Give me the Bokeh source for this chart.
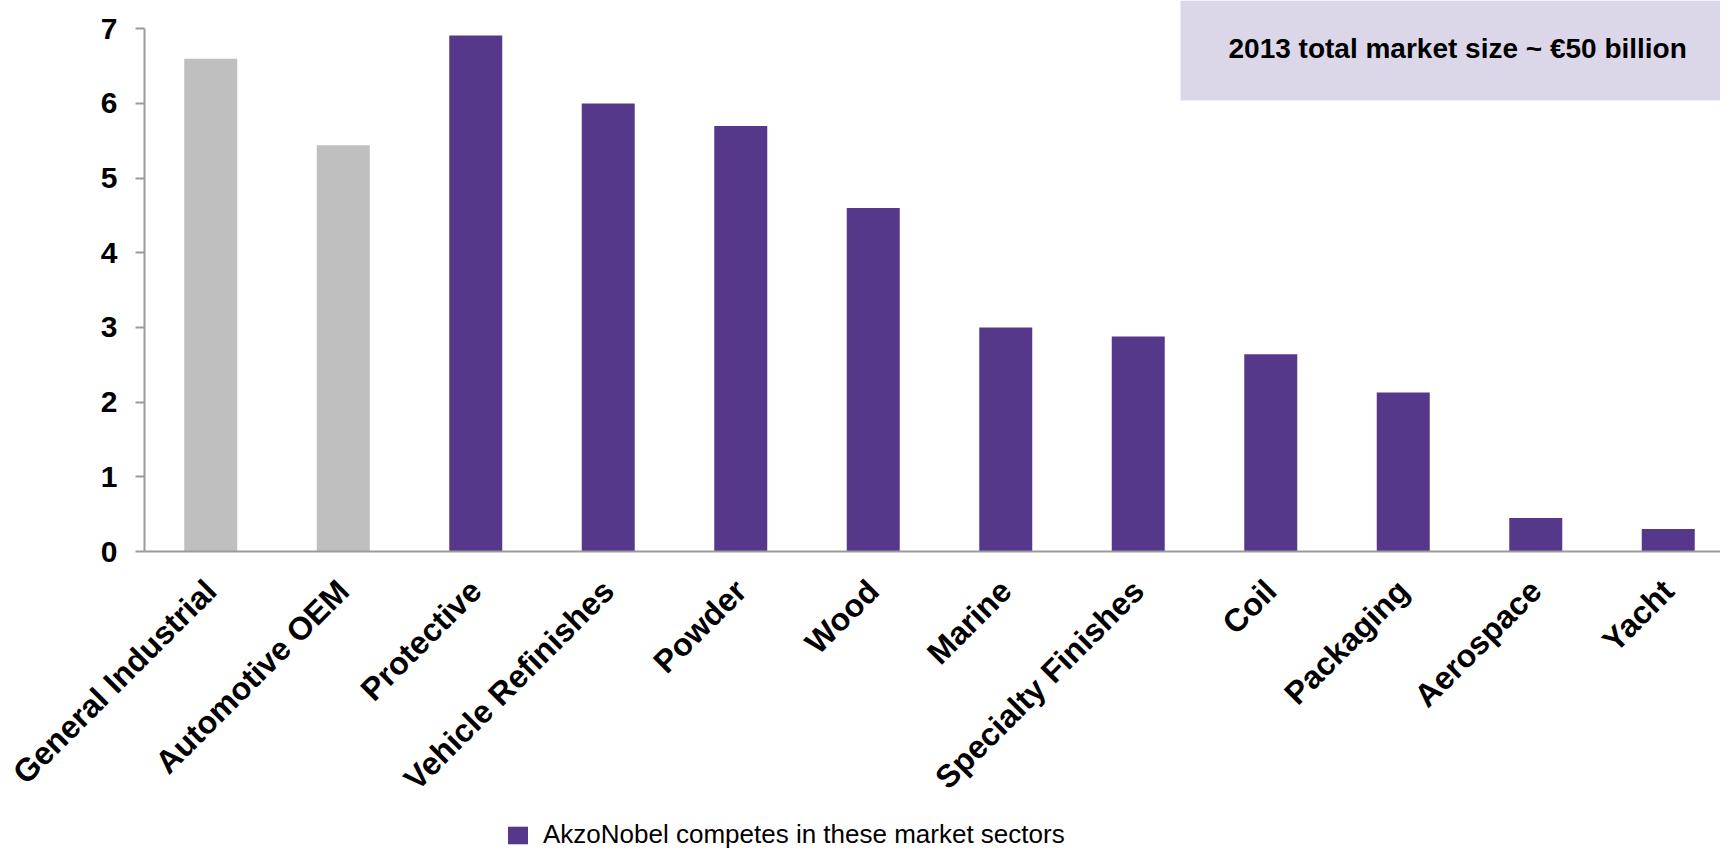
import math
from bokeh.plotting import figure
from bokeh.layouts import column
from bokeh.models import (ColumnDataSource, Range1d, FixedTicker, BoxAnnotation,
                          Label, Legend, LegendItem)
from bokeh.embed import file_html
from bokeh.resources import INLINE

# ---------------- data ----------------
categories = ["General Industrial", "Automotive OEM", "Protective", "Vehicle Refinishes",
              "Powder", "Wood", "Marine", "Specialty Finishes", "Coil", "Packaging",
              "Aerospace", "Yacht"]
market_size = [6.60, 5.44, 6.91, 6.00, 5.70, 4.60, 3.00, 2.88, 2.64, 2.13, 0.45, 0.30]
akzo_competes = [False, False, True, True, True, True, True, True, True, True, True, True]
y_ticks = [0, 1, 2, 3, 4, 5, 6, 7]
box_text = "2013 total market size  ~ \u20ac50 billion"
legend_text = "AkzoNobel competes in these market sectors"

# ---------------- layout ----------------
FONT = "Liberation Sans"
PURPLE = "#56388A"
GRAY = "#BFBFBF"
W = 1720
H_MAIN = 818
H_LEG = 32
frame_left = 144          # canvas px
frame_bottom = 551        # canvas px
cat_px = 132.5            # px per category
unit_px = 74.67           # px per y unit
x_start = -0.5
x_end = x_start + (W - frame_left) / cat_px
y_end = frame_bottom / unit_px


def x_at(px):
    return x_start + (px - frame_left) / cat_px


def y_at(py):
    return (frame_bottom - py) / unit_px


p = figure(width=W, height=H_MAIN, x_range=Range1d(x_start, x_end),
           y_range=Range1d(0, y_end), output_backend="svg", toolbar_location=None,
           min_border_left=frame_left, min_border_right=0, min_border_top=0,
           min_border_bottom=H_MAIN - frame_bottom)
p.outline_line_color = None
p.xgrid.visible = False
p.ygrid.visible = False
p.background_fill_color = "white"
p.border_fill_color = "white"

idx = list(range(len(categories)))
gray_src = ColumnDataSource(dict(
    x=[i for i, c in zip(idx, akzo_competes) if not c],
    top=[v for v, c in zip(market_size, akzo_competes) if not c]))
purple_src = ColumnDataSource(dict(
    x=[i for i, c in zip(idx, akzo_competes) if c],
    top=[v for v, c in zip(market_size, akzo_competes) if c]))

p.vbar(x="x", top="top", bottom=0, width=0.4, source=gray_src,
       fill_color=GRAY, line_color=None)
p.vbar(x="x", top="top", bottom=0, width=0.4, source=purple_src,
       fill_color=PURPLE, line_color=None)

# x axis
xa = p.xaxis[0]
xa.ticker = FixedTicker(ticks=idx)
xa.major_label_overrides = {i: c for i, c in enumerate(categories)}
xa.major_label_orientation = math.pi / 4
xa.major_tick_out = 0
xa.major_tick_in = 0
xa.minor_tick_out = 0
xa.minor_tick_in = 0
xa.axis_line_color = "#9A9A9A"
xa.axis_line_width = 2
xa.major_label_text_font = FONT
xa.major_label_text_font_size = "32px"
xa.major_label_text_font_style = "bold"
xa.major_label_text_color = "black"
xa.major_label_standoff = 34

# y axis
ya = p.yaxis[0]
ya.ticker = FixedTicker(ticks=y_ticks)
ya.bounds = (y_ticks[0], y_ticks[-1])
ya.major_tick_out = 9
ya.major_tick_in = 0
ya.minor_tick_out = 0
ya.minor_tick_in = 0
ya.major_tick_line_color = "#9A9A9A"
ya.major_tick_line_width = 2
ya.axis_line_color = "#9A9A9A"
ya.axis_line_width = 2
ya.major_label_text_font = FONT
ya.major_label_text_font_size = "30px"
ya.major_label_text_font_style = "bold"
ya.major_label_text_color = "black"
ya.major_label_standoff = 18

# info box
box = BoxAnnotation(left=x_at(1180), bottom=y_at(100), fill_color="#DCD7E8",
                    fill_alpha=1.0, line_color=None, level="underlay")
p.add_layout(box)
p.add_layout(Label(x=x_at(1228), y=y_at(48), text=box_text, text_font=FONT,
                   text_font_size="28px", text_font_style="bold", text_color="black",
                   text_baseline="middle", text_align="left"))

# legend strip below the chart (frame is aligned with the main plot's frame)
pl = figure(width=W, height=H_LEG, x_range=Range1d(0, 1), y_range=Range1d(0, 1),
            output_backend="svg", toolbar_location=None, min_border=0)
pl.axis.visible = False
pl.grid.visible = False
pl.outline_line_color = None
key_src = ColumnDataSource(dict(x=[0.5], top=[0.0]))   # zero-height key glyph
r_key = pl.vbar(x="x", top="top", bottom=0, width=0.01, source=key_src,
                fill_color=PURPLE, line_color=None)
legend = Legend(items=[LegendItem(label=legend_text, renderers=[r_key])],
                location=(505 - frame_left, 0),
                glyph_width=25, glyph_height=22, label_standoff=13,
                label_text_font=FONT, label_text_font_size="26px", label_text_color="black",
                padding=0, margin=0, spacing=0, border_line_color=None,
                background_fill_alpha=0)
pl.add_layout(legend)

layout = column(p, pl, spacing=0)
open("out.html", "w").write(file_html(layout, INLINE))
